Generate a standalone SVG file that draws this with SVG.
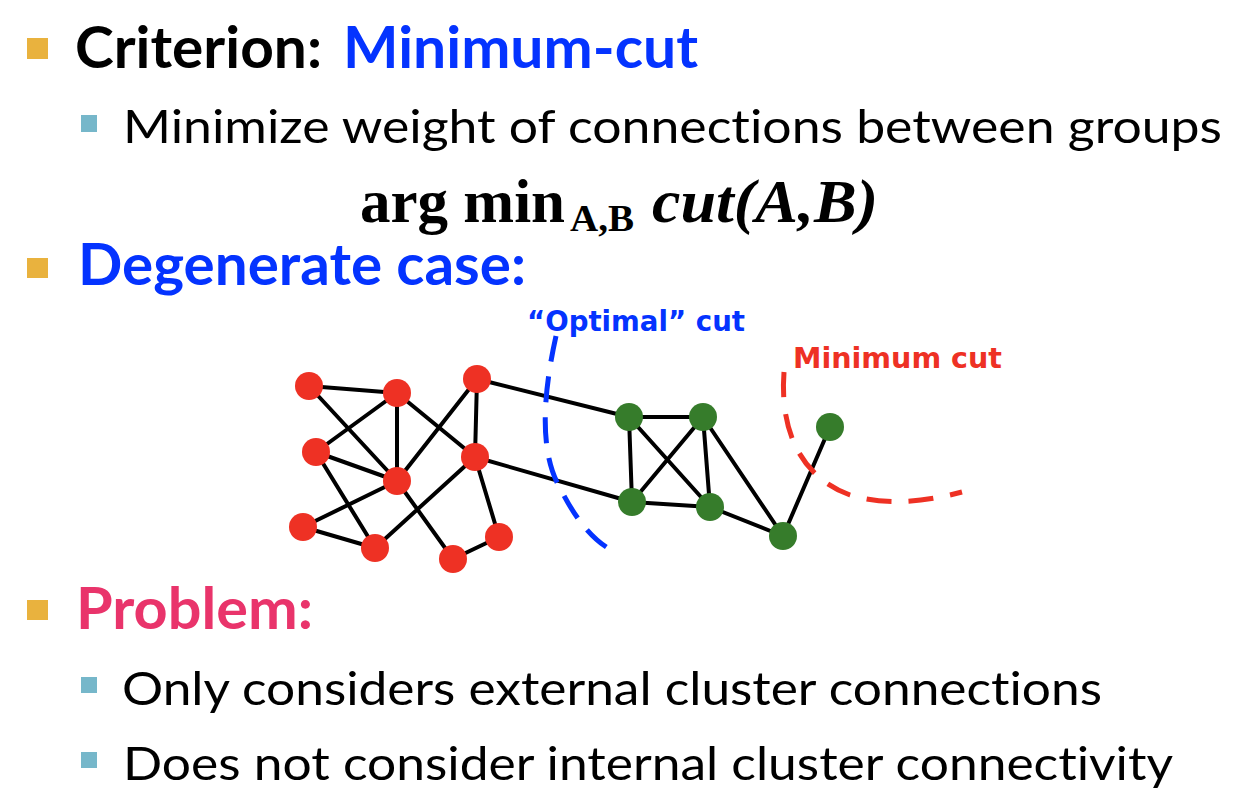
<svg xmlns="http://www.w3.org/2000/svg" width="1252" height="804" viewBox="0 0 1252 804">
<style>
.h{font-family:Lato,"Open Sans","Liberation Sans",sans-serif;font-weight:700;font-size:57px;font-variant-ligatures:none}
.b{font-family:Lato,"Open Sans","Liberation Sans",sans-serif;font-weight:400;font-size:47px;fill:#000;font-variant-ligatures:none}
.lbl{font-family:"DejaVu Sans",Verdana,sans-serif;font-weight:700;font-size:29px}
.m{font-family:"Liberation Serif","Times New Roman",serif;font-weight:700;fill:#000}
.e{stroke:#000;stroke-width:4;fill:none}
.r{fill:#EE3124}
.g{fill:#367C2B}
.ob{fill:#E9B23E}
.tb{fill:#76B7CA}
</style>
<rect width="1252" height="804" fill="#fff"/>
<rect class="ob" x="27" y="38" width="21" height="21"/>
<text class="h" x="75" y="68" fill="#000" textLength="247" lengthAdjust="spacingAndGlyphs">Criterion:</text>
<text class="h" x="343" y="68" fill="#0433FF" textLength="355" lengthAdjust="spacingAndGlyphs">Minimum-cut</text>
<rect class="tb" x="81" y="115" width="16" height="17"/>
<text class="b" x="123" y="143" textLength="1099" lengthAdjust="spacingAndGlyphs">Minimize weight of connections between groups</text>
<text class="m" x="360" y="222" font-size="61" textLength="205" lengthAdjust="spacingAndGlyphs">arg min</text>
<text class="m" x="570" y="231" font-size="38" textLength="64" lengthAdjust="spacingAndGlyphs">A,B</text>
<text class="m" x="652" y="222" font-size="61" font-style="italic" textLength="226" lengthAdjust="spacingAndGlyphs">cut(A,B)</text>
<rect class="ob" x="27" y="258" width="21" height="20"/>
<text class="h" x="78" y="285" fill="#0433FF" textLength="448" lengthAdjust="spacingAndGlyphs">Degenerate case:</text>
<text class="lbl" x="527" y="331" fill="#0433FF" textLength="218" lengthAdjust="spacingAndGlyphs">“Optimal” cut</text>
<text class="lbl" x="793" y="368" fill="#EE3124" textLength="209" lengthAdjust="spacingAndGlyphs">Minimum cut</text>
<rect class="ob" x="27" y="600" width="21" height="20"/>
<text class="h" x="76" y="629" fill="#E9346B" textLength="237" lengthAdjust="spacingAndGlyphs">Problem:</text>
<rect class="tb" x="81" y="677" width="16" height="16"/>
<text class="b" x="122" y="705" textLength="980" lengthAdjust="spacingAndGlyphs">Only considers external cluster connections</text>
<rect class="tb" x="81" y="752" width="16" height="16"/>
<text class="b" x="123" y="780" textLength="1050" lengthAdjust="spacingAndGlyphs">Does not consider internal cluster connectivity</text>
<g id="connectors">
<path class="e" d="M309,386L397,393M309,386L397,481M397,393L316,452M397,393L397,481M397,393L475,457M477,379L397,481M477,379L475,457M477,379L629,417M316,452L397,481M316,452L375,548M397,481L303,527M303,527L375,548M475,457L375,548M397,481L453,559M475,457L499,537M453,559L499,537M475,457L632,502"/>
<path class="e" d="M629,417L703,417M629,417L632,502M629,417L710,507M703,417L632,502M703,417L710,507M703,417L783,536M632,502L710,507M710,507L783,536M783,536L830,427"/>
</g>
<g id="cuts">
<path d="M556,336 C544,390 538,450 560,488 C575,518 592,540 613,551" fill="none" stroke="#0433FF" stroke-width="5" stroke-dasharray="26,15"/>
<path d="M784,372 C779,440 808,480 850,495 C885,506 925,502 962,492" fill="none" stroke="#EE3124" stroke-width="5" stroke-dasharray="25,17"/>
</g>
<g id="n-r1"><circle class="r" cx="309" cy="386" r="14"/></g>
<g id="n-r2"><circle class="r" cx="397" cy="393" r="14"/></g>
<g id="n-r3"><circle class="r" cx="477" cy="379" r="14"/></g>
<g id="n-r4"><circle class="r" cx="316" cy="452" r="14"/></g>
<g id="n-r5"><circle class="r" cx="397" cy="481" r="14"/></g>
<g id="n-r6"><circle class="r" cx="475" cy="457" r="14"/></g>
<g id="n-r7"><circle class="r" cx="303" cy="527" r="14"/></g>
<g id="n-r8"><circle class="r" cx="375" cy="548" r="14"/></g>
<g id="n-r9"><circle class="r" cx="453" cy="559" r="14"/></g>
<g id="n-r10"><circle class="r" cx="499" cy="537" r="14"/></g>
<g id="n-g1"><circle class="g" cx="629" cy="417" r="14"/></g>
<g id="n-g2"><circle class="g" cx="703" cy="417" r="14"/></g>
<g id="n-g3"><circle class="g" cx="632" cy="502" r="14"/></g>
<g id="n-g4"><circle class="g" cx="710" cy="507" r="14"/></g>
<g id="n-g5"><circle class="g" cx="783" cy="536" r="14"/></g>
<g id="n-g6"><circle class="g" cx="830" cy="427" r="14"/></g>
</svg>
